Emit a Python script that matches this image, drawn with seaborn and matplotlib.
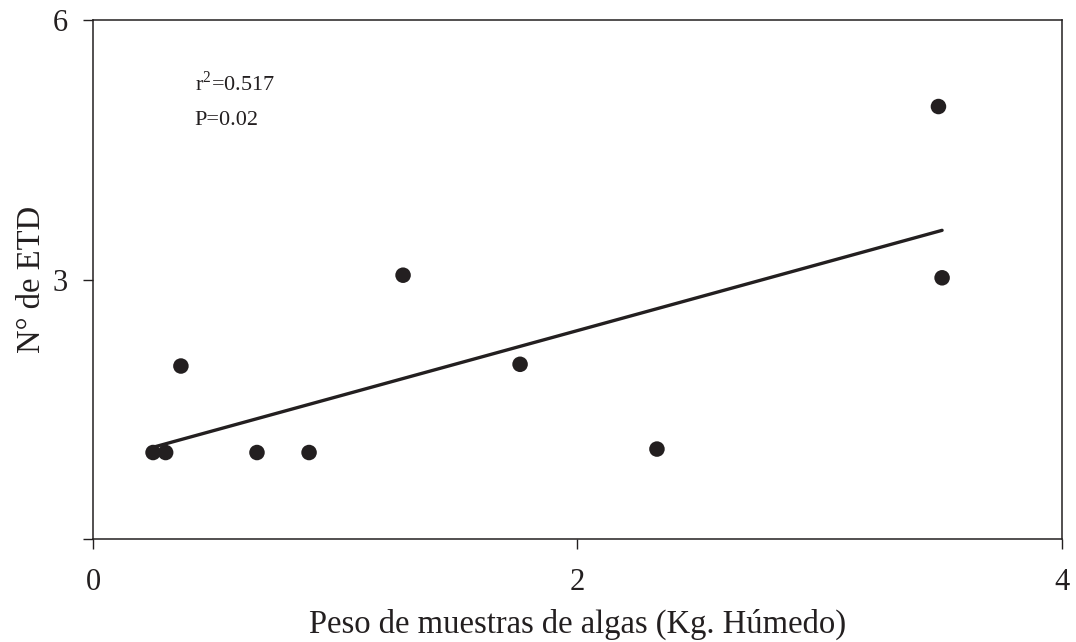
import matplotlib
matplotlib.use("Agg")
import matplotlib.pyplot as plt
import seaborn as sns
import pandas as pd

# datos
peso = [0.248, 0.30, 0.363, 0.677, 0.892, 1.28, 1.763, 2.328, 3.49, 3.505]
n_etd = [1, 1, 2, 1, 1, 3.05, 2.02, 1.04, 5.0, 3.02]
x_ticks = [0, 2, 4]
y_ticks = [0, 3, 6]
y_tick_labels = ["", "3", "6"]

df = pd.DataFrame({"peso": peso, "etd": n_etd})

sns.set_style("white")
plt.rcParams["font.family"] = ["Liberation Serif", "DejaVu Serif"]
plt.rcParams["mathtext.fontset"] = "custom"
plt.rcParams["mathtext.rm"] = "Liberation Serif"
negro = "#231f20"

fig = plt.figure(figsize=(10.76, 6.42), dpi=100)
ax = fig.add_axes([0.0864, 0.1604, 0.9006, 0.8084])

sns.regplot(data=df, x="peso", y="etd", ax=ax, ci=None, truncate=True,
            scatter_kws={"s": 125, "color": negro, "edgecolor": "none", "alpha": 1, "zorder": 3},
            line_kws={"color": negro, "linewidth": 2.4})

ax.set_xlim(0, 4)
ax.set_ylim(0, 6)
ax.set_xticks(x_ticks)
ax.set_yticks(y_ticks)
ax.set_yticklabels(y_tick_labels)
ax.tick_params(axis="both", direction="out", length=7, width=1, color=negro,
               labelsize=22, labelcolor=negro, bottom=True, left=True, pad=14)
ax.tick_params(axis="y", pad=11)
for s in ax.spines.values():
    s.set_color(negro)
    s.set_linewidth(1.1)

ax.set_xlabel("Peso de muestras de algas (Kg. Húmedo)", fontsize=23.5, color=negro, labelpad=8)
ax.set_ylabel("N° de ETD", fontsize=23.5, color=negro, labelpad=4)

ax.text(0.105, 0.877, r"r$^\mathregular{2}$=0.517", transform=ax.transAxes, fontsize=16,
        color=negro, va="center", ha="left")
ax.text(0.105, 0.807, "P=0.02", transform=ax.transAxes, fontsize=16,
        color=negro, va="center", ha="left")

fig.savefig("out.png", dpi=100)
